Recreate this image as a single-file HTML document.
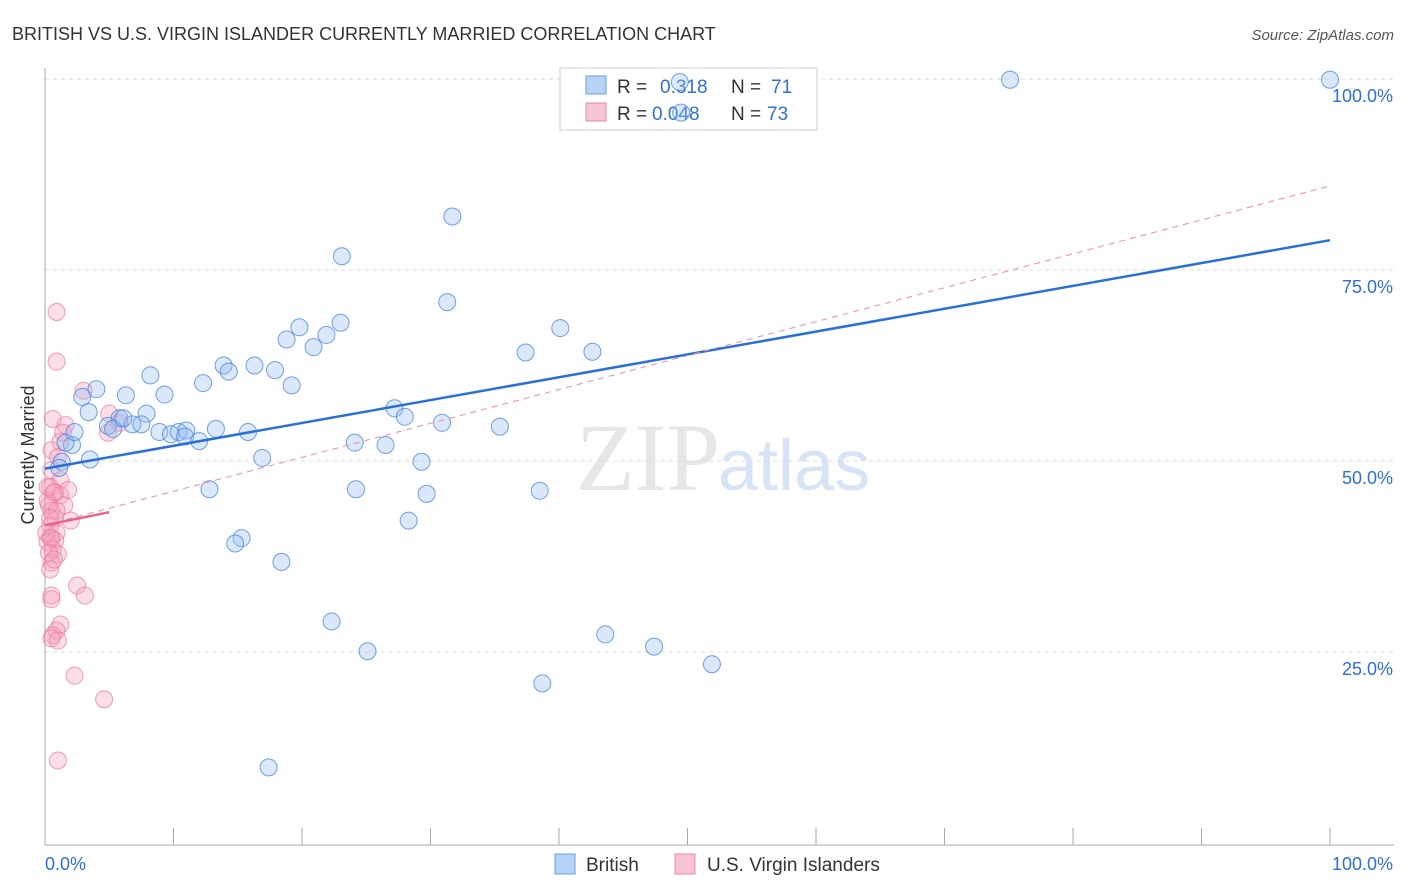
<!DOCTYPE html>
<html><head><meta charset="utf-8"><style>
body{margin:0;background:#fff;font-family:"Liberation Sans",sans-serif}
svg{display:block}
</style></head><body>
<svg id="c" width="1406" height="892" viewBox="0 0 1406 892">
<text x="12" y="40" font-size="18" fill="#333">BRITISH VS U.S. VIRGIN ISLANDER CURRENTLY MARRIED CORRELATION CHART</text>
<text x="1394" y="40" font-size="15" fill="#555" font-style="italic" text-anchor="end">Source: ZipAtlas.com</text>
<text x="720" y="490" font-size="96" fill="#e6e6e6" font-family="Liberation Serif,serif" text-anchor="end">ZIP</text>
<text x="718" y="490" font-size="72" fill="#d6e4f5">atlas</text>
<text transform="translate(34,455) rotate(-90)" font-size="18" fill="#333" text-anchor="middle">Currently Married</text>
<g id="grid"></g>
<g>
<rect x="560" y="68" width="257" height="62" fill="#fff" stroke="#ccc"/>
<rect x="586" y="76" width="20" height="18" fill="#b8d2f5" stroke="#6a9de0"/>
<rect x="586" y="103" width="20" height="18" fill="#f8c3d3" stroke="#ec8aa8"/>
<text x="617" y="93" font-size="19" fill="#333">R = </text><text x="660" y="93" font-size="19" fill="#2f6fd8">0.318</text>
<text x="731" y="93" font-size="19" fill="#333">N = </text><text x="771" y="93" font-size="19" fill="#2f6fd8">71</text>
<text x="617" y="120" font-size="19" fill="#333">R = </text><text x="652" y="120" font-size="19" fill="#2f6fd8">0.048</text>
<text x="731" y="120" font-size="19" fill="#333">N = </text><text x="767" y="120" font-size="19" fill="#2f6fd8">73</text>
</g>
<g id="pts"></g><g id="lines"></g>
<g>
<rect x="555" y="854" width="20" height="20" fill="#b8d2f5" stroke="#6a9de0"/>
<text x="586" y="871" font-size="19" fill="#333">British</text>
<rect x="675" y="854" width="20" height="20" fill="#f8c3d3" stroke="#ec8aa8"/>
<text x="707" y="871" font-size="19" fill="#333">U.S. Virgin Islanders</text>
</g>
</svg>
<script>
const yTicks=[25,50,75,100];
const yTickLabels=["25.0%","50.0%","75.0%","100.0%"];
const britishX=[49.4,75.1,100,31.7,23.1,31.3,40.1,23,19.8,21.9,18.8,20.9,37.4,42.6,13.9,16.3,14.3,17.9,8.2,12.3,19.2,4,6.3,9.3,2.9,7.9,3.4,5.8,27.2,28,30.9,35.4,4.9,5.3,6.8,7.5,8.9,9.8,10.4,11,13.3,15.8,2.1,10.9,12,24.1,26.5,1.6,1.3,16.9,29.3,1.1,12.8,24.2,29.7,38.5,28.3,15.3,14.8,18.4,22.3,25.1,43.6,47.4,51.9,38.7,17.4,49.5,3.5,2.3,6.1];
const britishY=[99.6,99.9,99.9,82,76.8,70.8,67.4,68.1,67.5,66.5,65.9,64.9,64.2,64.3,62.5,62.5,61.7,61.9,61.2,60.2,59.9,59.4,58.6,58.7,58.4,56.2,56.4,55.6,56.9,55.8,55,54.5,54.6,54.2,54.8,54.8,53.8,53.5,53.8,54,54.2,53.8,52.1,53.2,52.6,52.4,52.1,52.4,49.9,50.4,49.9,49.1,46.3,46.3,45.7,46.1,42.2,39.9,39.2,36.8,29,25.1,27.3,25.7,23.4,20.9,9.9,95.6,50.2,53.8,55.6];
const usviX=[0.9,0.9,3,5,0.6,1.6,1.4,4.9,5.8,1.2,0.5,1,0.5,1.2,0.4,0.8,1.2,0.2,1.5,0.5,0.8,2,0.4,0.9,0.4,0.2,0.8,0.6,1,0.5,0.4,2.5,3.1,0.5,0.5,1.2,0.9,0.6,0.5,1,2.3,4.6,1,0.2,0.7,0.3,0.9,0.4,0.1,0.5,1.8,0.3,0.7];
const usviY=[69.5,63,59.2,56.2,55.5,54.7,53.7,53.7,55,52.5,51.4,50.5,48.8,47.5,46.6,45.9,45.5,44.8,44.2,43.5,42.5,42.2,41.5,40.6,40,39.4,39.6,38.4,37.8,36.7,35.8,33.7,32.4,32.4,31.9,28.6,27.8,27.2,26.8,26.5,21.9,18.8,10.8,46.6,45.9,44.2,43.5,42.5,40.6,39.9,46.2,38,37.1];
const X=v=>45+v*12.85, Y=v=>843-v*7.64;
const NS="http://www.w3.org/2000/svg";
const mk=(t,a,p)=>{const e=document.createElementNS(NS,t);for(const k in a)e.setAttribute(k,a[k]);p.appendChild(e);return e;};
const g=document.getElementById('grid');
yTicks.forEach((t,i)=>{
 const l=mk('line',{x1:45,x2:1394,y1:Y(t),y2:Y(t),stroke:'#ddd','stroke-dasharray':'4,4'},g);
 
 
 const tx=mk('text',{x:1393,y:Y(t)+23,'font-size':18,fill:'#2f6fd8','text-anchor':'end'},g);
 tx.textContent=yTickLabels[i];
 
 
});
mk('line',{x1:45,x2:45,y1:68,y2:845,stroke:'#aaa'},g);
mk('line',{x1:45,x2:1394,y1:845,y2:845,stroke:'#aaa'},g);
for(let i=0;i<=10;i++){mk('line',{x1:X(i*10),x2:X(i*10),y1:828,y2:845,stroke:'#aaa'},g);}
const t0=mk('text',{x:45,y:870,'font-size':18,fill:'#2f6fd8'},g);t0.textContent='0.0%';


const t1=mk('text',{x:1393,y:870,'font-size':18,fill:'#2f6fd8','text-anchor':'end'},g);t1.textContent='100.0%';


const p=document.getElementById('pts');
usviX.forEach((v,i)=>{const c=mk('circle',{cx:X(v),cy:Y(usviY[i]),r:8.5,fill:'rgba(244,160,186,0.35)',stroke:'rgba(236,120,156,0.7)'},p);
 
 });
britishX.forEach((v,i)=>{const c=mk('circle',{cx:X(v),cy:Y(britishY[i]),r:8.5,fill:'rgba(150,190,240,0.35)',stroke:'rgba(70,130,220,0.75)'},p);
 
 });
const L=document.getElementById('lines');
const a=mk('line',{x1:X(0),y1:Y(49),x2:X(100),y2:Y(78.9),stroke:'#2a6fd6','stroke-width':2.5},L);


const b=mk('line',{x1:X(0),y1:Y(41.6),x2:X(100),y2:Y(86),stroke:'#ec8aa8','stroke-width':1,'stroke-dasharray':'6,5'},L);


const c2=mk('line',{x1:X(0),y1:Y(41.6),x2:X(5),y2:Y(43.3),stroke:'#e8638e','stroke-width':2.5},L);


</script>
</body></html>
